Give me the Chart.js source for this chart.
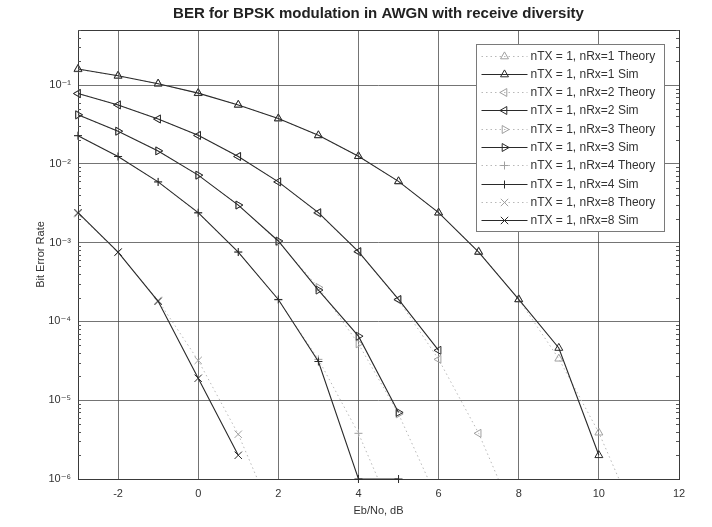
<!DOCTYPE html>
<html>
<head>
<meta charset="utf-8">
<script src="https://cdn.jsdelivr.net/npm/chart.js@4.4.1/dist/chart.umd.min.js"></script>
<style>
html,body{margin:0;padding:0;background:#fff;}
#wrap{width:712px;height:527px;position:relative;}
</style>
</head>
<body>
<div id="wrap"><canvas id="c" width="712" height="527"></canvas></div>
<script>
// ---- data ----
const ebN0dB = [-3,-2,-1,0,1,2,3,4,5,6,7,8,9,10,11,12];
const theoryNRx1 = [0.158,0.131,0.104,0.0786,0.0563,0.0375,0.0229,0.0125,0.00595,0.00239,7.73e-4,1.91e-4,3.36e-5,3.87e-6,2.61e-7,9.0e-9];
const simNRx1    = [0.160,0.131,0.104,0.0790,0.0560,0.0376,0.0230,0.0125,0.00600,0.00240,7.6e-4,1.9e-4,4.6e-5,2.0e-6,null,null];
const theoryNRx2 = [0.0783,0.0561,0.0373,0.0228,0.0124,0.00590,0.00236,7.6e-4,1.87e-4,3.3e-5,3.8e-6,2.5e-7,8.9e-9,1.3e-10,6.4e-13,8.6e-16];
const simNRx2    = [0.0780,0.0560,0.0370,0.0230,0.0124,0.00590,0.00240,7.7e-4,1.9e-4,4.3e-5,null,null,null,null,null,null];
const theoryNRx3 = [0.0415,0.0259,0.0146,0.00716,0.00300,0.00102,2.7e-4,5.2e-5,6.7e-6,5.1e-7,2.2e-8,3.4e-10,2e-12,4e-15,2e-18,1e-22];
const simNRx3    = [0.0420,0.0260,0.0146,0.00720,0.00300,0.00105,2.5e-4,6.5e-5,7.0e-6,null,null,null,null,null,null,null];
const theoryNRx4 = [0.0227,0.0124,0.00590,0.00236,7.6e-4,1.87e-4,3.3e-5,3.8e-6,2.5e-7,8.9e-9,1.3e-10,6.4e-13,8.6e-16,4e-19,6e-23,2e-27];
const simNRx4    = [0.0228,0.0124,0.00590,0.00240,7.6e-4,1.9e-4,3.1e-5,1.0e-6,1.0e-6,null,null,null,null,null,null,null];
const theoryNRx8 = [0.00233,7.5e-4,1.85e-4,3.2e-5,3.7e-6,2.4e-7,8.3e-9,1.1e-10,5e-13,6e-16,3e-19,4e-23,1e-27,5e-33,5e-39,1e-45];
const simNRx8    = [0.00240,7.6e-4,1.8e-4,1.9e-5,2.0e-6,null,null,null,null,null,null,null,null,null,null,null];

const seriesLabels = [
  'nTX = 1, nRx=1 Theory','nTX = 1, nRx=1 Sim',
  'nTX = 1, nRx=2 Theory','nTX = 1, nRx=2 Sim',
  'nTX = 1, nRx=3 Theory','nTX = 1, nRx=3 Sim',
  'nTX = 1, nRx=4 Theory','nTX = 1, nRx=4 Sim',
  'nTX = 1, nRx=8 Theory','nTX = 1, nRx=8 Sim'
];
const xTickValues = [-2,0,2,4,6,8,10,12];
const yTickValues = [1e-6,1e-5,1e-4,1e-3,1e-2,1e-1];
const chartTitle = 'BER for BPSK modulation in AWGN with receive diversity';
const xAxisTitle = 'Eb/No, dB';
const yAxisTitle = 'Bit Error Rate';

// ---- styling ----
const FONT = '"Liberation Sans", Arial, "DejaVu Sans", sans-serif';
const THEORY_LINE = '#b8b8b8';
const THEORY_MARK = '#a0a0a0';
const SIM_COLOR = '#2a2a2a';
const GRID = 'rgba(70,70,70,0.75)';

const markers = [
  {style:'triangle', rot:0,   r:4.6},
  {style:'triangle', rot:-90, r:4.6},
  {style:'triangle', rot:90,  r:4.6},
  {style:'cross',    rot:0,   r:4},
  {style:'crossRot', rot:0,   r:5.2}
];
const seriesValues = [theoryNRx1, simNRx1, theoryNRx2, simNRx2, theoryNRx3, simNRx3, theoryNRx4, simNRx4, theoryNRx8, simNRx8];

const datasets = seriesValues.map((vals, i) => {
  const m = markers[Math.floor(i/2)];
  const theory = i % 2 === 0;
  return {
    label: seriesLabels[i],
    data: ebN0dB.map((x, k) => ({x: x, y: vals[k]})),
    borderColor: theory ? THEORY_LINE : SIM_COLOR,
    borderWidth: theory ? 1 : 1.1,
    borderDash: theory ? [1.5, 3] : [],
    pointStyle: m.style,
    pointRotation: m.rot,
    pointRadius: m.r,
    pointBorderWidth: 1,
    pointBorderColor: theory ? THEORY_MARK : SIM_COLOR,
    pointBackgroundColor: 'rgba(0,0,0,0)',
    spanGaps: false,
    tension: 0,
    clip: theory ? {left: 8, top: 8, right: 8, bottom: 0} : false,
    order: theory ? 1 : 0
  };
});

function superscript(n) {
  const map = {'-':'\u207B','0':'\u2070','1':'\u00B9','2':'\u00B2','3':'\u00B3','4':'\u2074','5':'\u2075','6':'\u2076','7':'\u2077','8':'\u2078','9':'\u2079'};
  return String(n).split('').map(c => map[c] || c).join('');
}

function drawMarker(ctx, m, x, y) {
  ctx.save();
  ctx.translate(x, y);
  ctx.rotate(m.rot * Math.PI / 180);
  ctx.beginPath();
  const r = m.r;
  if (m.style === 'triangle') {
    for (let k = 0; k < 3; k++) {
      const a = k * 2 * Math.PI / 3;
      const px = Math.sin(a) * r, py = -Math.cos(a) * r;
      if (k === 0) ctx.moveTo(px, py); else ctx.lineTo(px, py);
    }
    ctx.closePath();
  } else if (m.style === 'cross') {
    ctx.moveTo(-r, 0); ctx.lineTo(r, 0); ctx.moveTo(0, -r); ctx.lineTo(0, r);
  } else if (m.style === 'crossRot') {
    const d = r * Math.SQRT1_2;
    ctx.moveTo(-d, -d); ctx.lineTo(d, d); ctx.moveTo(-d, d); ctx.lineTo(d, -d);
  }
  ctx.stroke();
  ctx.restore();
}

const framePlugin = {
  id: 'frameAndMinorTicks',
  beforeDatasetsDraw(chart) {
    const {ctx, chartArea: a, scales: {y}} = chart;
    ctx.save();
    ctx.strokeStyle = '#3a3a3a';
    ctx.lineWidth = 1;
    ctx.strokeRect(Math.round(a.left) + 0.5, Math.round(a.top) + 0.5, Math.round(a.right - a.left), Math.round(a.bottom - a.top));
    ctx.strokeStyle = '#555';
    ctx.beginPath();
    for (let e = -6; e <= -1; e++) {
      for (let k = 2; k <= 9; k++) {
        const v = k * Math.pow(10, e);
        if (v > y.max) continue;
        const py = Math.round(y.getPixelForValue(v)) + 0.5;
        ctx.moveTo(a.left, py); ctx.lineTo(a.left + 3, py);
        ctx.moveTo(a.right, py); ctx.lineTo(a.right - 3, py);
      }
    }
    ctx.stroke();
    // title centred over the plot area
    ctx.fillStyle = '#222';
    ctx.font = 'bold 15px ' + FONT;
    ctx.textAlign = 'center';
    ctx.textBaseline = 'middle';
    ctx.fillText(chartTitle, (a.left + a.right) / 2, 14);
    ctx.restore();
  },
  afterDatasetsDraw(chart) {
    const {ctx, chartArea: a} = chart;
    const boxW = 188, boxH = 187;
    const bx = Math.round(a.right - 15 - boxW) + 0.5;
    const by = Math.round(a.top + 14) + 0.5;
    ctx.save();
    ctx.fillStyle = '#fff';
    ctx.fillRect(bx, by, boxW, boxH);
    ctx.strokeStyle = '#7a7a7a';
    ctx.lineWidth = 1;
    ctx.strokeRect(bx, by, boxW, boxH);
    ctx.font = '12px ' + FONT;
    ctx.textBaseline = 'middle';
    ctx.textAlign = 'left';
    chart.data.datasets.forEach((ds, i) => {
      const yy = Math.round(by + 11 + i * 18.3) + 0.5;
      const x0 = bx + 5, x1 = bx + 51, xm = bx + 28;
      ctx.strokeStyle = ds.borderColor;
      ctx.lineWidth = 1;
      ctx.setLineDash(ds.borderDash);
      ctx.beginPath(); ctx.moveTo(x0, yy); ctx.lineTo(x1, yy); ctx.stroke();
      ctx.setLineDash([]);
      ctx.strokeStyle = ds.pointBorderColor;
      drawMarker(ctx, markers[Math.floor(i/2)], xm, yy);
      ctx.fillStyle = '#333';
      ctx.fillText(ds.label, bx + 54, yy);
    });
    ctx.restore();
  }
};

new Chart(document.getElementById('c'), {
  type: 'line',
  data: {datasets: datasets},
  plugins: [framePlugin],
  options: {
    responsive: false,
    animation: false,
    devicePixelRatio: 1,
    layout: {padding: {left: 0, right: 33, top: 30, bottom: 0}},
    plugins: {
      legend: {display: false},
      tooltip: {enabled: false},
      title: {display: false}
    },
    scales: {
      x: {
        type: 'linear', min: -3, max: 12,
        afterBuildTicks: s => { s.ticks = xTickValues.map(v => ({value: v})); },
        afterFit: s => { s.height = 48; },
        grid: {color: GRID, lineWidth: 1, drawTicks: false},
        border: {display: false},
        ticks: {padding: 8, color: '#333', font: {family: FONT, size: 11}, maxRotation: 0, autoSkip: false, callback: v => String(v)},
        title: {display: true, text: xAxisTitle, color: '#333', font: {family: FONT, size: 11}, padding: {top: 0, bottom: 9}}
      },
      y: {
        type: 'logarithmic', min: 1e-6, max: 0.5,
        afterBuildTicks: s => { s.ticks = yTickValues.map(v => ({value: v, major: true})); },
        afterFit: s => { s.width = 78; },
        grid: {color: GRID, lineWidth: 1, drawTicks: false},
        border: {display: false},
        ticks: {padding: 7, color: '#333', font: {family: FONT, size: 11}, autoSkip: false,
          callback: v => '10' + superscript(Math.round(Math.log10(v)))},
        title: {display: true, text: yAxisTitle, color: '#333', font: {family: FONT, size: 11}, padding: {top: 34, bottom: 0}}
      }
    }
  }
});
</script>
</body>
</html>
